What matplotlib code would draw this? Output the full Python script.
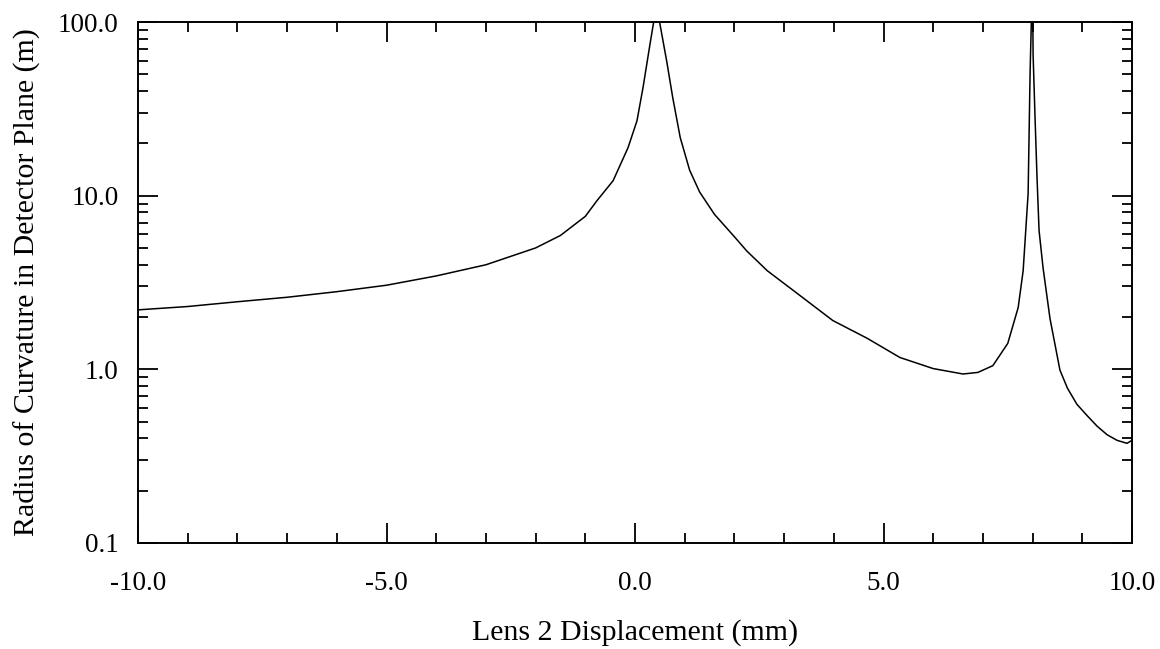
import matplotlib
matplotlib.use("Agg")
import matplotlib.pyplot as plt
from matplotlib.ticker import FixedLocator, FuncFormatter, MultipleLocator, LogLocator, NullFormatter

# lens 2 displacement (mm) and radius of curvature (m)
displacement = [-10.0, -9.0, -8.0, -7.0, -6.0, -5.0, -4.0, -3.0, -2.0, -1.5, -1.0,
                -0.76, -0.44, -0.14, 0.04, 0.16, 0.30, 0.40, 0.45,
                0.50, 0.64, 0.76, 0.91, 1.1, 1.3, 1.6, 2.0, 2.25, 2.66, 3.32,
                3.98, 4.67, 5.33, 6.0, 6.6, 6.9, 7.2, 7.5, 7.71, 7.81, 7.91,
                7.95, 7.99, 8.0, 8.01, 8.05, 8.09, 8.13, 8.21, 8.35, 8.55,
                8.7, 8.89, 9.1, 9.3, 9.5, 9.7, 9.9, 10.0]
radius = [2.2, 2.3, 2.45, 2.6, 2.8, 3.05, 3.45, 4.0, 5.0, 5.9, 7.6,
          9.4, 12.2, 18.9, 27.0, 41.7, 74.0, 110.0, 150.0,
          98.0, 59.0, 36.6, 21.6, 14.0, 10.5, 7.8, 5.8, 4.8, 3.7, 2.66,
          1.91, 1.51, 1.17, 1.01, 0.94, 0.96, 1.05, 1.41, 2.27, 3.7, 10.3,
          52.0, 150.0, 150.0, 65.0, 27.6, 12.5, 6.3, 3.85, 1.96, 0.99,
          0.78, 0.63, 0.54, 0.47, 0.42, 0.39, 0.375, 0.39]

x_major = [-10, -5, 0, 5, 10]
y_major = [0.1, 1, 10, 100]

plt.rcParams['font.family'] = ['Liberation Serif', 'DejaVu Serif']

fig = plt.figure(figsize=(11.6, 6.49), dpi=100)
ax = fig.add_axes([138 / 1160, 106 / 649, 994 / 1160, 521 / 649])

ax.plot(displacement, radius, color="black", linewidth=1.1)

ax.set_yscale("log")
ax.set_xlim(-10, 10)
ax.set_ylim(0.1, 100)

ax.xaxis.set_major_locator(FixedLocator(x_major))
ax.xaxis.set_minor_locator(MultipleLocator(1))
ax.yaxis.set_major_locator(FixedLocator(y_major))
ax.yaxis.set_minor_locator(LogLocator(base=10, subs=range(2, 10)))
ax.yaxis.set_minor_formatter(NullFormatter())
fmt = FuncFormatter(lambda v, p: "%.1f" % v)
ax.xaxis.set_major_formatter(fmt)
ax.yaxis.set_major_formatter(fmt)

ax.tick_params(which="both", direction="in", top=True, right=True, width=1.3, colors="black")
ax.tick_params(which="major", length=14.4, labelsize=19.5)
ax.tick_params(which="minor", length=7.2)
ax.tick_params(axis="y", which="major", pad=14)
ax.tick_params(axis="x", which="major", pad=20)

for s in ax.spines.values():
    s.set_linewidth(1.4)

ax.set_xlabel("Lens 2 Displacement (mm)", fontsize=21.5, labelpad=17)
ax.set_ylabel("Radius of Curvature in Detector Plane (m)", fontsize=21.5, labelpad=12)

plt.savefig("out.png", dpi=100, facecolor="white")
